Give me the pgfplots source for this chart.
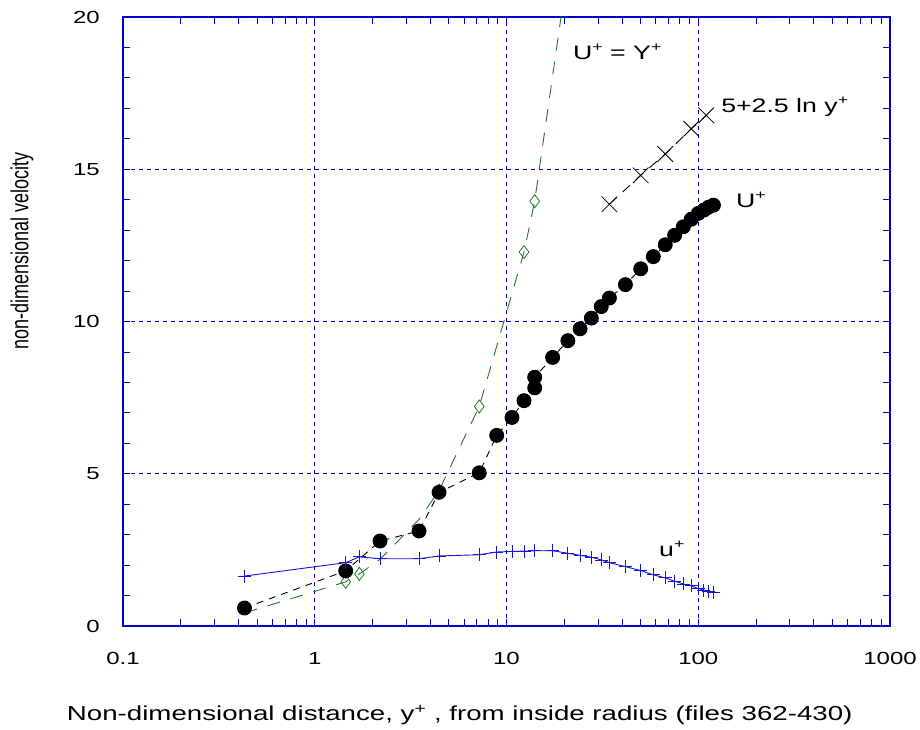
\documentclass[border=0pt]{standalone}
\usepackage{fontspec}
\setmainfont{Liberation Sans}[FakeStretch=1.37]
\newfontfamily\ylabfont{Liberation Sans}
\usepackage{graphicx}
\usepackage{pgfplots}
\pgfplotsset{compat=1.18}
\definecolor{axblue}{RGB}{0,0,200}
\definecolor{lineblue}{RGB}{20,20,220}
\definecolor{dgreen}{RGB}{30,120,40}
\newcommand{\supplus}{\raisebox{0.42em}{\fontsize{13}{13}\selectfont +}}
\begin{document}
\begin{tikzpicture}
\path[use as bounding box] (-123pt,-104pt) rectangle (797pt,626pt);
\begin{axis}[
  at={(0pt,0pt)}, anchor=south west,
  scale only axis, width=767pt, height=609pt,
  xmode=log, log basis x=10,
  xmin=0.1, xmax=1000, ymin=0, ymax=20,
  xtick={0.1,1,10,100,1000}, xticklabels={0.1,1,10,100,1000},
  minor xtick={0.2,0.3,0.4,0.5,0.6,0.7,0.8,0.9,2,3,4,5,6,7,8,9,20,30,40,50,60,70,80,90,200,300,400,500,600,700,800,900},
  ytick={0,5,10,15,20},
  minor ytick={1,2,3,4,6,7,8,9,11,12,13,14,16,17,18,19},
  tick align=inside,
  major tick length=7pt, minor tick length=7pt,
  tick style={axblue, line width=0.8pt},
  axis line style={axblue, line width=1.2pt},
  grid=major,
  major grid style={axblue, dash pattern=on 4pt off 4pt, line width=0.8pt},
  /pgf/number format/assume math mode=true,
  ticklabel style={font=\fontsize{17.5}{20}\selectfont, text=black},
  xticklabel style={inner sep=0pt, anchor=north, yshift=-26pt},
  yticklabel style={inner sep=0pt, anchor=east, xshift=-23pt},
  xlabel={Non-dimensional distance, y\textsuperscript{+} , from inside radius (files 362-430)},
  xlabel style={at={(axis description cs:0.439,-0.146)}, anchor=center, font=\fontsize{20.2}{24}\selectfont},
  ylabel={\scalebox{1}[1.37]{non-dimensional velocity}},
  ylabel style={at={(axis description cs:-0.1317,0.616)}, anchor=center, font=\ylabfont\fontsize{18}{22}\selectfont},
  clip mode=individual,
]
% U+ = Y+
\addplot[dgreen, line width=0.9pt, dash pattern=on 13pt off 11pt, mark=diamond, mark size=6.5pt, mark indices={2,3,6,7,8,9},
  mark options={solid, fill=white, line width=0.8pt}] coordinates {
 (0.43,0.43) (1.45,1.45) (1.71,1.71) (2.19,2.19) (3.50,3.50) (4.45,4.45) (7.21,7.21) (12.34,12.28) (14.03,13.95) (25,25)
};
% U+
\addplot[black, line width=0.9pt, dash pattern=on 7pt off 6pt, mark=*, mark size=7pt, mark options={solid, fill=black}] coordinates {
 (0.43,0.59) (1.45,1.81) (2.19,2.79) (3.50,3.12) (4.45,4.39) (7.21,5.03) (8.89,6.26) (10.68,6.85) (12.34,7.40) (14.03,7.82) (14.03,8.17)
 (17.4,8.82) (20.9,9.37) (24.2,9.76) (27.7,10.11) (31.2,10.49) (34.4,10.77) (41.7,11.21) (50.1,11.73) (58.3,12.13) (67.3,12.52)
 (75.3,12.83) (83.6,13.11) (92.0,13.36) (100,13.55) (107,13.66) (113,13.75) (120,13.82)
};
% log law
\addplot[black, line width=0.9pt, dash pattern=on 10pt off 8pt, mark=x, mark size=11pt, mark options={solid, line width=0.8pt}] coordinates {
 (34.4,13.85) (50.1,14.80) (67.3,15.50) (92.0,16.33) (110,16.77)
};
% u+
\addplot[lineblue, line width=0.9pt, mark=+, mark size=6.5pt, mark options={solid, line width=0.8pt}] coordinates {
 (0.43,1.64) (1.45,2.08) (1.71,2.27) (2.19,2.21) (3.50,2.21) (4.45,2.30) (7.21,2.34) (8.89,2.43) (10.68,2.45) (12.34,2.46)
 (14.03,2.47) (17.4,2.47) (20.9,2.39) (24.2,2.32) (27.7,2.26) (31.2,2.17) (34.4,2.08) (41.7,1.95) (50.1,1.82) (58.3,1.68)
 (67.3,1.58) (75.3,1.47) (83.6,1.38) (92.0,1.32) (100,1.23) (107,1.18) (113,1.14) (120,1.10)
};
\node[anchor=base west, font=\fontsize{19.5}{22}\selectfont, inner sep=0pt] at (axis cs:22.2,18.59) {U\supplus{} = Y\supplus};
\node[anchor=base west, font=\fontsize{19.5}{22}\selectfont, inner sep=0pt] at (axis cs:131.5,16.86) {5+2.5 ln y\supplus};
\node[anchor=base west, font=\fontsize{19.5}{22}\selectfont, inner sep=0pt] at (axis cs:157,13.75) {U\supplus};
\node[anchor=base west, font=\fontsize{19.5}{22}\selectfont, inner sep=0pt] at (axis cs:62.4,2.27) {u\supplus};
\end{axis}
\end{tikzpicture}
\end{document}
